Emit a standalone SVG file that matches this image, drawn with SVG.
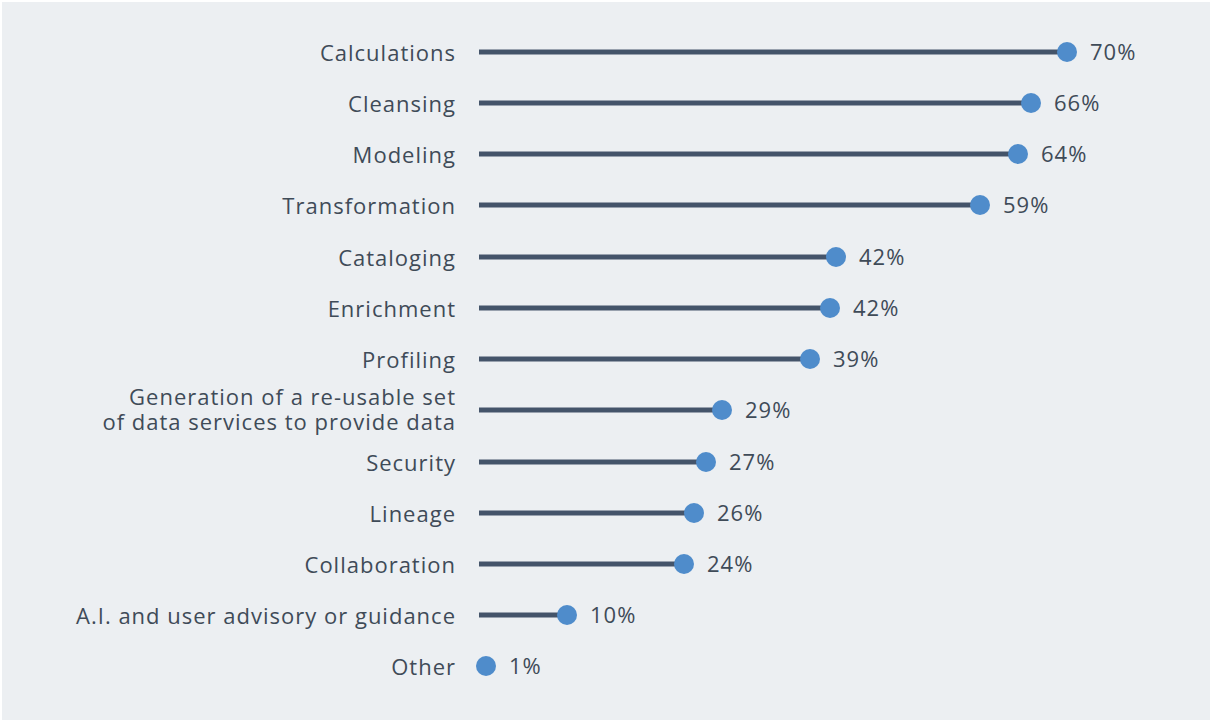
<svg xmlns="http://www.w3.org/2000/svg" width="1210" height="720" viewBox="0 0 1210 720">
<style>
.lbl{font-family:"Open Sans","Liberation Sans",sans-serif;font-size:22px;letter-spacing:1px;fill:#3f4b58;text-anchor:end}
.val{font-family:"Open Sans","Liberation Sans",sans-serif;font-size:22px;letter-spacing:1px;fill:#3f4b58}
.bar{stroke:#44546a;stroke-width:5}
.dot{fill:#4f8ccb}
</style>
<rect x="0" y="0" width="1210" height="720" fill="#ffffff"/>
<rect x="2" y="2" width="1208" height="718" fill="#eceff2"/>
<g id="connectors">
<line class="bar" x1="479" y1="52" x2="1067" y2="52"/>
<line class="bar" x1="479" y1="103" x2="1031" y2="103"/>
<line class="bar" x1="479" y1="154" x2="1018" y2="154"/>
<line class="bar" x1="479" y1="205" x2="980" y2="205"/>
<line class="bar" x1="479" y1="257" x2="836" y2="257"/>
<line class="bar" x1="479" y1="308" x2="830" y2="308"/>
<line class="bar" x1="479" y1="359" x2="810" y2="359"/>
<line class="bar" x1="479" y1="410" x2="722" y2="410"/>
<line class="bar" x1="479" y1="462" x2="706" y2="462"/>
<line class="bar" x1="479" y1="513" x2="694" y2="513"/>
<line class="bar" x1="479" y1="564" x2="684" y2="564"/>
<line class="bar" x1="479" y1="615" x2="567" y2="615"/>
</g>
<g id="row-calculations"><text class="lbl" x="456" y="61">Calculations</text><circle class="dot" cx="1067" cy="52" r="10"/><text class="val" x="1090" y="60">70%</text></g>
<g id="row-cleansing"><text class="lbl" x="456" y="112">Cleansing</text><circle class="dot" cx="1031" cy="103" r="10"/><text class="val" x="1054" y="111">66%</text></g>
<g id="row-modeling"><text class="lbl" x="456" y="163">Modeling</text><circle class="dot" cx="1018" cy="154" r="10"/><text class="val" x="1041" y="162">64%</text></g>
<g id="row-transformation"><text class="lbl" x="456" y="214">Transformation</text><circle class="dot" cx="980" cy="205" r="10"/><text class="val" x="1003" y="213">59%</text></g>
<g id="row-cataloging"><text class="lbl" x="456" y="266">Cataloging</text><circle class="dot" cx="836" cy="257" r="10"/><text class="val" x="859" y="265">42%</text></g>
<g id="row-enrichment"><text class="lbl" x="456" y="317">Enrichment</text><circle class="dot" cx="830" cy="308" r="10"/><text class="val" x="853" y="316">42%</text></g>
<g id="row-profiling"><text class="lbl" x="456" y="368">Profiling</text><circle class="dot" cx="810" cy="359" r="10"/><text class="val" x="833" y="367">39%</text></g>
<g id="row-generation"><text class="lbl" x="456" y="405">Generation of a re-usable set</text><text class="lbl" x="456" y="430">of data services to provide data</text><circle class="dot" cx="722" cy="410" r="10"/><text class="val" x="745" y="418">29%</text></g>
<g id="row-security"><text class="lbl" x="456" y="471">Security</text><circle class="dot" cx="706" cy="462" r="10"/><text class="val" x="729" y="470">27%</text></g>
<g id="row-lineage"><text class="lbl" x="456" y="522">Lineage</text><circle class="dot" cx="694" cy="513" r="10"/><text class="val" x="717" y="521">26%</text></g>
<g id="row-collaboration"><text class="lbl" x="456" y="573">Collaboration</text><circle class="dot" cx="684" cy="564" r="10"/><text class="val" x="707" y="572">24%</text></g>
<g id="row-ai"><text class="lbl" x="456" y="624">A.I. and user advisory or guidance</text><circle class="dot" cx="567" cy="615" r="10"/><text class="val" x="590" y="623">10%</text></g>
<g id="row-other"><text class="lbl" x="456" y="675">Other</text><circle class="dot" cx="486" cy="666" r="10"/><text class="val" x="509" y="674">1%</text></g>
</svg>
